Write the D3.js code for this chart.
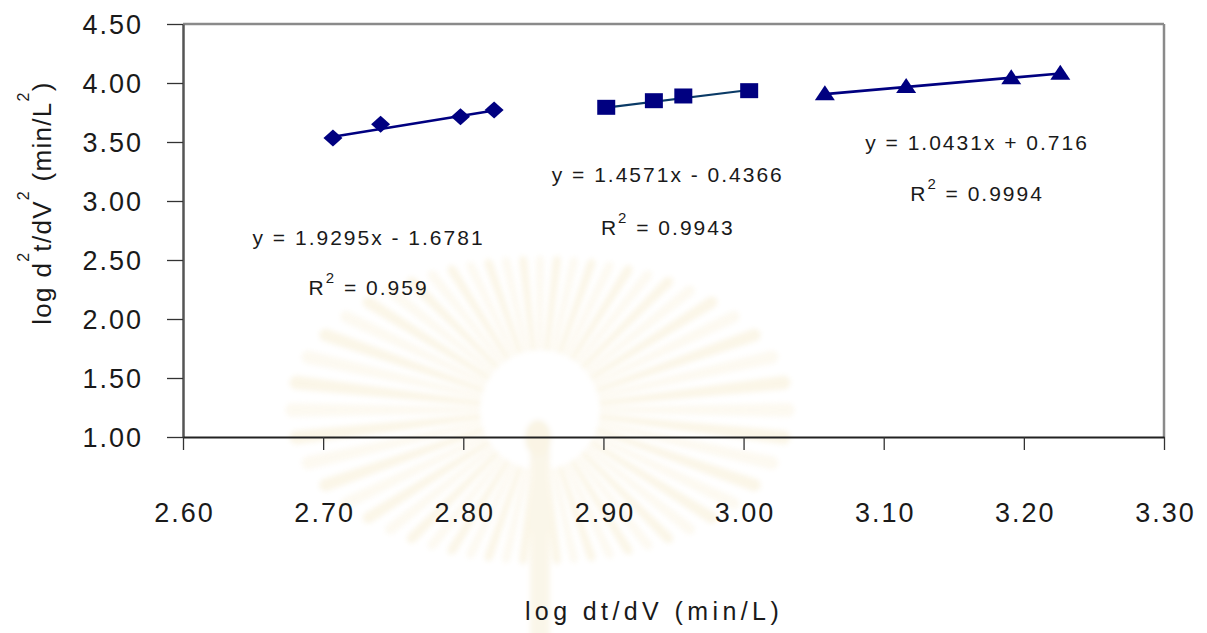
<!DOCTYPE html>
<html>
<head>
<meta charset="utf-8">
<script src="https://cdn.jsdelivr.net/npm/d3@7"></script>
<style>
  html, body { margin: 0; padding: 0; background: #ffffff; }
  svg { display: block; }
  text { font-family: "Liberation Sans", Arial, sans-serif; fill: #1a1a1a; }
</style>
</head>
<body>
<svg id="chart" width="1207" height="633"></svg>
<script>
// ---- data ----
const xTicks = [2.60, 2.70, 2.80, 2.90, 3.00, 3.10, 3.20, 3.30];
const yTicks = [1.00, 1.50, 2.00, 2.50, 3.00, 3.50, 4.00, 4.50];

// series 1 (diamonds)
const diamondX = [2.707, 2.741, 2.798, 2.822];
const diamondY = [3.534, 3.650, 3.715, 3.771];
// series 2 (squares)
const squareX = [2.902, 2.936, 2.957, 3.004];
const squareY = [3.794, 3.850, 3.890, 3.935];
// series 3 (triangles)
const triangleX = [3.058, 3.116, 3.191, 3.226];
const triangleY = [3.913, 3.975, 4.048, 4.087];

// linear trend lines y = slope * x + intercept
const trendSlope = [1.9295, 1.4571, 1.0431];
const trendIntercept = [-1.6781, -0.4366, 0.716];
const equationLabels = ["y = 1.9295x - 1.6781", "y = 1.4571x - 0.4366", "y = 1.0431x + 0.716"];
const r2Labels = ["0.959", "0.9943", "0.9994"];

const xTitle = "log dt/dV (min/L)";

// ---- layout ----
const svg = d3.select("#chart");
const W = 1207, H = 633;
const plot = { left: 183, right: 1164, top: 24, bottom: 437 };

const x = d3.scaleLinear().domain([2.6, 3.3]).range([plot.left, plot.right]);
const y = d3.scaleLinear().domain([1.0, 4.5]).range([plot.bottom, plot.top]);

svg.append("rect").attr("width", W).attr("height", H).attr("fill", "#ffffff");

// faint emblem printed in the page background
const defs = svg.append("defs");
defs.append("filter").attr("id", "soft")
  .append("feGaussianBlur").attr("stdDeviation", 2.5);
const emblem = svg.append("g").attr("opacity", 0.45).attr("filter", "url(#soft)");
const ec = { x: 540, y: 410 };
const nRays = 56;
for (let i = 0; i < nRays; i++) {
  const a = (i / nRays) * Math.PI * 2;
  const rx = 250, ry = 150;
  const R = 1 / Math.sqrt(Math.pow(Math.cos(a) / rx, 2) + Math.pow(Math.sin(a) / ry, 2));
  const r0 = 60;
  const hw0 = 0.045, hw1 = 0.028;
  const p = d3.path();
  p.moveTo(ec.x + r0 * Math.cos(a - hw0), ec.y + r0 * Math.sin(a - hw0));
  p.lineTo(ec.x + R * Math.cos(a - hw1), ec.y + R * Math.sin(a - hw1));
  p.quadraticCurveTo(ec.x + (R + 10) * Math.cos(a), ec.y + (R + 10) * Math.sin(a),
                     ec.x + R * Math.cos(a + hw1), ec.y + R * Math.sin(a + hw1));
  p.lineTo(ec.x + r0 * Math.cos(a + hw0), ec.y + r0 * Math.sin(a + hw0));
  p.closePath();
  emblem.append("path").attr("d", p.toString())
    .attr("fill", i % 2 ? "#f6ebcc" : "#faf3e0");
}
emblem.append("circle").attr("cx", ec.x).attr("cy", ec.y).attr("r", 56).attr("fill", "#ffffff");
emblem.append("rect").attr("x", ec.x - 10).attr("y", ec.y + 20).attr("width", 20).attr("height", 220)
  .attr("rx", 6).attr("fill", "#f6ecd0");
emblem.append("ellipse").attr("cx", ec.x - 2).attr("cy", ec.y + 28).attr("rx", 13).attr("ry", 18).attr("fill", "#f4e8c6");

// ---- frame (top and right) ----
svg.append("line").attr("x1", plot.left).attr("x2", plot.right).attr("y1", plot.top).attr("y2", plot.top)
  .attr("stroke", "#8a8a8a").attr("stroke-width", 2.5);
svg.append("line").attr("x1", plot.right).attr("x2", plot.right).attr("y1", plot.top).attr("y2", plot.bottom)
  .attr("stroke", "#8a8a8a").attr("stroke-width", 2.5);

// ---- axes ----
const fmt = d => d.toFixed(2);

const yAxis = svg.append("g").attr("transform", `translate(${plot.left},0)`)
  .call(d3.axisLeft(y).tickValues(yTicks).tickFormat(fmt).tickSize(16).tickSizeOuter(0));
yAxis.select(".domain").attr("stroke", "#555555").attr("stroke-width", 2.5);
yAxis.selectAll(".tick line").attr("stroke", "#333333").attr("stroke-width", 1.3);
yAxis.selectAll(".tick text")
  .attr("x", -40).attr("dy", "0.36em")
  .attr("font-size", 27).style("letter-spacing", "2px")
  .attr("fill", "#1a1a1a").attr("font-family", null);

const xAxis = svg.append("g").attr("transform", `translate(0,${plot.bottom})`)
  .call(d3.axisBottom(x).tickValues(xTicks).tickFormat(fmt).tickSize(13).tickSizeOuter(0));
xAxis.select(".domain").attr("stroke", "#222222").attr("stroke-width", 2);
xAxis.selectAll(".tick line").attr("stroke", "#333333").attr("stroke-width", 1.3);
xAxis.selectAll(".tick text")
  .attr("y", 85).attr("dy", 0).attr("x", 1)
  .attr("font-size", 27).style("letter-spacing", "2px")
  .attr("fill", "#1a1a1a").attr("font-family", null);

// ---- axis titles ----
svg.append("text")
  .attr("x", 654).attr("y", 620)
  .attr("text-anchor", "middle")
  .attr("font-size", 25).style("letter-spacing", "4.4px")
  .text(xTitle);

const yt = svg.append("text")
  .attr("transform", "translate(51,203) rotate(-90)")
  .attr("text-anchor", "middle")
  .attr("font-size", 26).style("letter-spacing", "1.3px");
yt.append("tspan").text("log d");
yt.append("tspan").attr("font-size", 16).attr("dy", -22).text("2");
yt.append("tspan").attr("dy", 22).text("t/dV");
yt.append("tspan").attr("font-size", 16).attr("dy", -22).text("2");
yt.append("tspan").attr("dy", 22).text(" (min/L");
yt.append("tspan").attr("font-size", 16).attr("dy", -22).text("2");
yt.append("tspan").attr("dy", 22).text(")");

// ---- trend lines ----
const series = [
  { xs: diamondX, ys: diamondY, shape: "diamond", lineColor: "#000080", lineWidth: 2.6 },
  { xs: squareX, ys: squareY, shape: "square", lineColor: "#0a3a66", lineWidth: 2.2 },
  { xs: triangleX, ys: triangleY, shape: "triangle", lineColor: "#000080", lineWidth: 2.6 }
];

series.forEach((s, i) => {
  const x0 = d3.min(s.xs), x1 = d3.max(s.xs);
  const pts = [x0, x1].map(v => [v, trendSlope[i] * v + trendIntercept[i]]);
  svg.append("path")
    .attr("d", d3.line().x(d => x(d[0])).y(d => y(d[1]))(pts))
    .attr("fill", "none").attr("stroke", s.lineColor).attr("stroke-width", s.lineWidth);
});

// ---- markers ----
const markerPath = {
  diamond: "M0,-8.5 L9.5,0 L0,8.5 L-9.5,0 Z",
  square: "M-9,-7.5 L9,-7.5 L9,7.5 L-9,7.5 Z",
  triangle: "M0,-8 L10,7 L-10,7 Z"
};
series.forEach(s => {
  svg.append("g").selectAll("path")
    .data(s.xs.map((v, k) => [v, s.ys[k]]))
    .join("path")
    .attr("transform", d => `translate(${x(d[0])},${y(d[1])})`)
    .attr("d", markerPath[s.shape])
    .attr("fill", "#000080");
});

// ---- equation labels (anchored in data units) ----
const labelPos = [
  { cx: 2.7317, eqY: 2.627, r2Y: 2.203 },
  { cx: 2.9452, eqY: 3.165, r2Y: 2.716 },
  { cx: 3.1659, eqY: 3.436, r2Y: 3.000 }
];
labelPos.forEach((p, i) => {
  svg.append("text")
    .attr("x", x(p.cx) + 1).attr("y", y(p.eqY))
    .attr("text-anchor", "middle")
    .attr("font-size", 21).style("letter-spacing", "2px")
    .text(equationLabels[i]);
  const t = svg.append("text")
    .attr("x", x(p.cx) + 1).attr("y", y(p.r2Y))
    .attr("text-anchor", "middle")
    .attr("font-size", 21).style("letter-spacing", "2px");
  t.append("tspan").text("R");
  t.append("tspan").attr("font-size", 15).attr("dy", -12).text("2");
  t.append("tspan").attr("dy", 12).text(" = " + r2Labels[i]);
});
</script>
</body>
</html>
